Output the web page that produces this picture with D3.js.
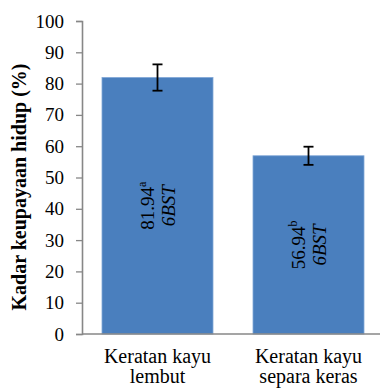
<!DOCTYPE html>
<html>
<head>
<meta charset="utf-8">
<script src="https://cdn.jsdelivr.net/npm/d3@7"></script>
<style>
  html, body { margin: 0; padding: 0; background: #fff; }
  svg { display: block; }
</style>
</head>
<body>
<script>
// Survival rate of cuttings by cutting type
const categories = [["Keratan kayu", "lembut"], ["Keratan kayu", "separa keras"]];
const values = [81.94, 56.94];
const errors = [4.2, 2.9];
const letters = ["a", "b"];
const ageLabels = ["6BST", "6BST"];
const yTicks = [0, 10, 20, 30, 40, 50, 60, 70, 80, 90, 100];
const yTitle = "Kadar keupayaan hidup (%)";

const FONT = "'Liberation Serif'";

const W = 380, H = 389;
const svg = d3.select("body").append("svg")
  .attr("width", W).attr("height", H);

const x = d3.scaleBand()
  .domain(d3.range(values.length))
  .range([82, 384])
  .paddingInner(0.265)
  .paddingOuter(0.1325);

const y = d3.scaleLinear().domain([0, 100]).range([334, 21]);

const axisColor = "#878787";

// Bars
svg.selectAll("rect.bar")
  .data(values)
  .join("rect")
  .attr("class", "bar")
  .attr("x", (d, i) => x(i))
  .attr("y", d => y(d))
  .attr("width", x.bandwidth())
  .attr("height", d => y(0) - y(d))
  .attr("fill", "#4a7fbe")
  .attr("stroke", "#7fa6d6")
  .attr("stroke-width", 0.8);

// Y axis
const yAxis = svg.append("g")
  .attr("transform", "translate(82,0)")
  .call(d3.axisLeft(y).tickValues(yTicks).tickSize(6).tickPadding(12).tickFormat(d3.format("d")));
yAxis.attr("font-family", null).attr("font-size", null);
yAxis.select(".domain").attr("stroke", axisColor).attr("stroke-width", 1.6);
yAxis.selectAll(".tick line").attr("stroke", axisColor).attr("stroke-width", 1.3);
yAxis.selectAll(".tick text")
  .style("font-family", FONT)
  .style("font-size", "19px")
  .attr("fill", "#000");

// X baseline
svg.append("line")
  .attr("x1", 82).attr("x2", W)
  .attr("y1", y(0)).attr("y2", y(0))
  .attr("stroke", axisColor).attr("stroke-width", 1.6);

// Error bars
const cap = 5;
const eb = svg.append("g").attr("stroke", "#000").attr("stroke-width", 1.8);
values.forEach((v, i) => {
  const cx = x(i) + x.bandwidth() / 2;
  eb.append("line").attr("x1", cx).attr("x2", cx).attr("y1", y(v + errors[i])).attr("y2", y(v - errors[i]));
  eb.append("line").attr("x1", cx - cap).attr("x2", cx + cap).attr("y1", y(v + errors[i])).attr("y2", y(v + errors[i]));
  eb.append("line").attr("x1", cx - cap).attr("x2", cx + cap).attr("y1", y(v - errors[i])).attr("y2", y(v - errors[i]));
});

// Value labels inside bars, rotated
values.forEach((v, i) => {
  const cx = x(i) + x.bandwidth() / 2;
  const cy = (y(v) + y(0)) / 2;
  const g = svg.append("g").attr("transform", `translate(${cx},${cy}) rotate(-90)`);
  const t1 = g.append("text").attr("text-anchor", "middle").attr("y", -4)
    .style("font-family", FONT).style("font-size", "19px");
  t1.append("tspan").style("font-family", FONT).text(v.toFixed(2));
  t1.append("tspan").style("font-family", FONT).style("font-size", "12px").attr("dy", -8).text(letters[i]);
  g.append("text").attr("text-anchor", "middle").attr("y", 17)
    .style("font-family", FONT)
    .style("font-size", "19px").style("font-style", "italic").text(ageLabels[i]);
});

// Category labels
categories.forEach((lines, i) => {
  const cx = x(i) + x.bandwidth() / 2;
  lines.forEach((s, j) => {
    svg.append("text")
      .attr("x", cx).attr("y", 363 + j * 20)
      .attr("text-anchor", "middle")
      .style("font-family", FONT)
      .style("font-size", "20px")
      .text(s);
  });
});

// Y axis title
svg.append("text")
  .attr("transform", `translate(26,187) rotate(-90)`)
  .attr("text-anchor", "middle")
  .style("font-family", FONT)
  .style("font-size", "20px")
  .style("font-weight", "bold")
  .text(yTitle);
</script>
</body>
</html>
